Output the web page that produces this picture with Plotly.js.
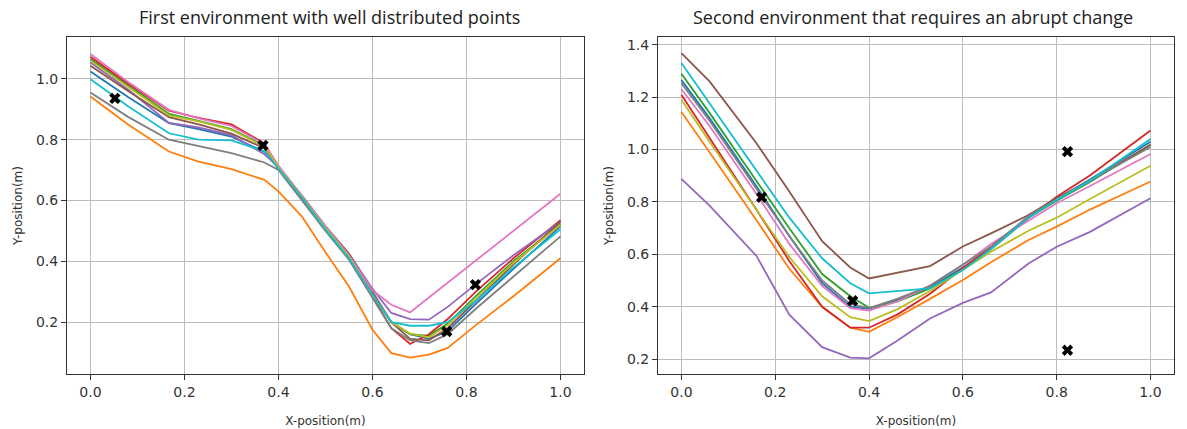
<!DOCTYPE html>
<html>
<head>
<meta charset="utf-8">
<script src="https://cdn.plot.ly/plotly-3.0.1.min.js"></script>
<style>
  html, body { margin: 0; padding: 0; background: #fff; }
  #chart { width: 1187px; height: 429px; }
</style>
</head>
<body>
<div id="chart"></div>
<script>
// ---------- Data: first environment ----------
const env1X = [0, 0.08, 0.167, 0.23, 0.3, 0.37, 0.4, 0.45, 0.5, 0.55, 0.6, 0.64, 0.68, 0.72, 0.76, 0.82, 0.9, 1.0];
const env1Blue   = [1.024, 0.940, 0.854, 0.835, 0.810, 0.760, 0.705, 0.610, 0.505, 0.410, 0.285, 0.200, 0.160, 0.145, 0.170, 0.260, 0.375, 0.515];
const env1Orange = [0.942, 0.850, 0.761, 0.728, 0.703, 0.668, 0.630, 0.547, 0.430, 0.317, 0.175, 0.098, 0.083, 0.093, 0.115, 0.190, 0.285, 0.410];
const env1Green  = [1.065, 0.978, 0.885, 0.862, 0.835, 0.780, 0.710, 0.612, 0.510, 0.415, 0.290, 0.200, 0.160, 0.155, 0.195, 0.285, 0.400, 0.522];
const env1Red    = [1.073, 0.985, 0.895, 0.872, 0.850, 0.788, 0.710, 0.608, 0.505, 0.410, 0.280, 0.180, 0.128, 0.160, 0.210, 0.300, 0.410, 0.535];
const env1Purple = [1.054, 0.965, 0.855, 0.840, 0.815, 0.752, 0.710, 0.615, 0.515, 0.425, 0.310, 0.230, 0.210, 0.208, 0.250, 0.325, 0.420, 0.530];
const env1Brown  = [1.043, 0.960, 0.874, 0.850, 0.820, 0.772, 0.710, 0.615, 0.515, 0.425, 0.300, 0.200, 0.145, 0.140, 0.180, 0.270, 0.390, 0.530];
const env1Pink   = [1.082, 0.990, 0.898, 0.870, 0.845, 0.785, 0.715, 0.615, 0.515, 0.420, 0.305, 0.257, 0.232, 0.281, 0.330, 0.403, 0.500, 0.622];
const env1Gray   = [0.955, 0.875, 0.800, 0.780, 0.756, 0.725, 0.700, 0.600, 0.500, 0.405, 0.280, 0.180, 0.140, 0.131, 0.160, 0.244, 0.350, 0.482];
const env1Olive  = [1.060, 0.975, 0.880, 0.860, 0.832, 0.778, 0.710, 0.612, 0.510, 0.415, 0.290, 0.200, 0.162, 0.150, 0.190, 0.280, 0.395, 0.520];
const env1Cyan   = [0.999, 0.910, 0.821, 0.800, 0.798, 0.762, 0.705, 0.610, 0.505, 0.410, 0.290, 0.200, 0.188, 0.188, 0.200, 0.270, 0.380, 0.505];
const env1PointsX = [0.052, 0.367, 0.758, 0.819];
const env1PointsY = [0.936, 0.781, 0.169, 0.323];

// ---------- Data: second environment ----------
const env2X = [0, 0.06, 0.16, 0.23, 0.3, 0.36, 0.4, 0.46, 0.53, 0.6, 0.66, 0.74, 0.8, 0.87, 1.0];
const env2Blue   = [1.265, 1.120, 0.860, 0.670, 0.490, 0.400, 0.392, 0.425, 0.475, 0.550, 0.620, 0.740, 0.810, 0.885, 1.030];
const env2Orange = [1.143, 0.990, 0.730, 0.545, 0.400, 0.320, 0.304, 0.360, 0.430, 0.502, 0.570, 0.655, 0.706, 0.770, 0.878];
const env2Green  = [1.289, 1.140, 0.880, 0.700, 0.525, 0.440, 0.396, 0.420, 0.470, 0.545, 0.620, 0.740, 0.805, 0.875, 1.018];
const env2Red    = [1.209, 1.045, 0.770, 0.575, 0.400, 0.320, 0.320, 0.370, 0.450, 0.547, 0.630, 0.740, 0.820, 0.900, 1.073];
const env2Purple = [0.888, 0.786, 0.594, 0.370, 0.246, 0.206, 0.203, 0.270, 0.355, 0.415, 0.455, 0.565, 0.629, 0.685, 0.814];
const env2Brown  = [1.368, 1.260, 1.024, 0.840, 0.650, 0.550, 0.508, 0.530, 0.555, 0.630, 0.680, 0.750, 0.815, 0.880, 1.018];
const env2Pink   = [1.231, 1.090, 0.830, 0.640, 0.480, 0.395, 0.385, 0.420, 0.480, 0.560, 0.640, 0.730, 0.795, 0.860, 0.983];
const env2Gray   = [1.253, 1.110, 0.850, 0.670, 0.500, 0.410, 0.395, 0.430, 0.480, 0.560, 0.630, 0.745, 0.810, 0.880, 1.010];
const env2Olive  = [1.190, 1.030, 0.770, 0.590, 0.440, 0.360, 0.345, 0.390, 0.460, 0.540, 0.610, 0.690, 0.740, 0.810, 0.938];
const env2Cyan   = [1.330, 1.176, 0.920, 0.740, 0.585, 0.490, 0.451, 0.460, 0.470, 0.540, 0.620, 0.740, 0.808, 0.880, 1.040];
const env2PointsX = [0.171, 0.365, 0.823, 0.823];
const env2PointsY = [0.818, 0.423, 0.992, 0.234];

// ---------- Labels ----------
const title1 = 'First environment with well distributed points';
const title2 = 'Second environment that requires an abrupt change';
const xLabel = 'X-position(m)';
const yLabel = 'Y-position(m)';
const xTicks = [0, 0.2, 0.4, 0.6, 0.8, 1.0];
const y1Ticks = [0.2, 0.4, 0.6, 0.8, 1.0];
const y2Ticks = [0.2, 0.4, 0.6, 0.8, 1.0, 1.2, 1.4];

const palette = ['#1f77b4','#ff7f0e','#2ca02c','#d62728','#9467bd','#8c564b','#e377c2','#7f7f7f','#bcbd22','#17becf'];
const env1Series = [env1Blue, env1Orange, env1Green, env1Red, env1Purple, env1Brown, env1Pink, env1Gray, env1Olive, env1Cyan];
const env2Series = [env2Blue, env2Orange, env2Green, env2Red, env2Purple, env2Brown, env2Pink, env2Gray, env2Olive, env2Cyan];

const traces = [];
env1Series.forEach((ys, i) => traces.push({
  x: env1X, y: ys, mode: 'lines', xaxis: 'x', yaxis: 'y',
  line: {color: palette[i], width: 1.8}, showlegend: false, hoverinfo: 'skip'
}));
traces.push({x: env1PointsX, y: env1PointsY, mode: 'markers', xaxis: 'x', yaxis: 'y',
  marker: {symbol: 'x', size: 10, color: '#000'}, showlegend: false});
env2Series.forEach((ys, i) => traces.push({
  x: env2X, y: ys, mode: 'lines', xaxis: 'x2', yaxis: 'y2',
  line: {color: palette[i], width: 1.8}, showlegend: false, hoverinfo: 'skip'
}));
traces.push({x: env2PointsX, y: env2PointsY, mode: 'markers', xaxis: 'x2', yaxis: 'y2',
  marker: {symbol: 'x', size: 10, color: '#000'}, showlegend: false});

const tickFont = {family: 'DejaVu Sans', size: 14, color: '#333'};
const labFont = {family: 'DejaVu Sans', size: 12, color: '#333'};
function xAxis(domain, anchor) {
  return {
    domain: domain, anchor: anchor, range: [-0.05, 1.05],
    tickvals: xTicks, tickformat: '.1f', ticks: 'outside', ticklen: 5, tickcolor: '#333',
    showgrid: true, gridcolor: '#bcbcbc', gridwidth: 1, zeroline: false,
    showline: true, linecolor: '#333', linewidth: 1, mirror: true,
    tickfont: tickFont, title: {text: xLabel, font: labFont, standoff: 17}
  };
}
function yAxis(range, ticks, anchor) {
  return {
    domain: [0.128, 0.914], anchor: anchor, range: range,
    tickvals: ticks, tickformat: '.1f', ticks: 'outside', ticklen: 5, tickcolor: '#333',
    showgrid: true, gridcolor: '#bcbcbc', gridwidth: 1, zeroline: false,
    showline: true, linecolor: '#333', linewidth: 1, mirror: true,
    tickfont: tickFont, title: {text: yLabel, font: labFont, standoff: 10}
  };
}

const layout = {
  width: 1187, height: 429,
  margin: {l: 0, r: 0, t: 0, b: 0},
  paper_bgcolor: '#fff', plot_bgcolor: '#fff',
  xaxis: xAxis([0.0564, 0.492], 'y'),
  yaxis: yAxis([0.029, 1.138], y1Ticks, 'x'),
  xaxis2: xAxis([0.5543, 0.989], 'y2'),
  yaxis2: yAxis([0.143, 1.43], y2Ticks, 'x2'),
  annotations: [
    {text: title1, xref: 'paper', yref: 'paper', x: 0.278, y: 1 - 17/429, xanchor: 'center', yanchor: 'middle',
     showarrow: false, font: {family: 'Open Sans', size: 18, color: '#222'}},
    {text: title2, xref: 'paper', yref: 'paper', x: 0.769, y: 1 - 17/429, xanchor: 'center', yanchor: 'middle',
     showarrow: false, font: {family: 'Open Sans', size: 18, color: '#222'}}
  ]
};

Plotly.newPlot('chart', traces, layout, {staticPlot: true, displayModeBar: false});
</script>
</body>
</html>
